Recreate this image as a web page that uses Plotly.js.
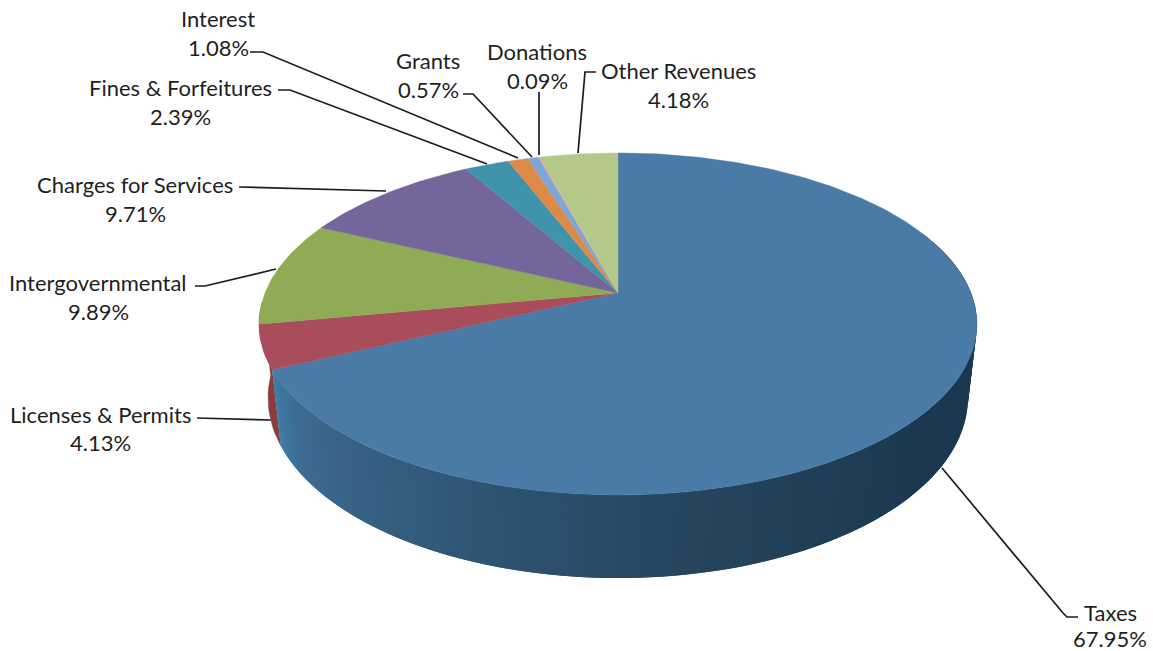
<!DOCTYPE html>
<html>
<head>
<meta charset="utf-8">
<script src="https://cdn.plot.ly/plotly-3.0.1.min.js"></script>
<style>html,body{margin:0;padding:0;background:#fff}#chart{width:1153px;height:651px}</style>
</head>
<body>
<div id="chart"></div>
<script>
// ---- data ----
const categories = ["Taxes","Licenses & Permits","Intergovernmental","Charges for Services","Fines & Forfeitures","Interest","Grants","Donations","Other Revenues"];
const shares = [67.95,4.13,9.89,9.71,2.39,1.08,0.57,0.09,4.18];
const topColors = ["#4a7aa6","#a94c5c","#8fab55","#74659b","#3f93aa","#dc8a48","#7fa6d8","#d9a9a0","#b4c88a"];

// ---- label placement (pixel axes): name centre, value centre, leader path ----
const labelX   = [1110,100,98,135,180,218,428,537,678];
const nameY    = [612,414,282,184,87,18,60,51,70];
const valueY   = [638,442,311,213,116,47,89,80,99];
const leaders  = [
  [[942,468],[1063,613],[1067,617],[1078,617]],
  [[197,418],[271,420]],
  [[195,286],[205,286],[276,269]],
  [[239,187],[386,191]],
  [[278,90],[290,90],[487,164]],
  [[250,52],[263,52],[518,158]],
  [[463,94],[473,94],[532,157]],
  [[539,92],[539,155]],
  [[596,72],[585,72],[578,153]]
];

// ---- tilted-disc projection ----
const cx = 618, cy = 293, b = 353, a = 165.4, k = 0.181;
function rim(deg){
  const r = deg*Math.PI/180, u = Math.sin(r), v = -Math.cos(r), d = 1-k*v;
  return [cx+b*u/d, cy+a*v/d];
}
function lowerRim(deg){
  const p = rim(deg);
  return [cx+(p[0]-cx)*0.975, cy+72+(p[1]-cy)*1.055];
}
function hex(c){return [1,3,5].map(i=>parseInt(c.substr(i,2),16));}
const wallStops = [[70,"#1b3850"],[130,"#1b3850"],[165,"#24435c"],[200,"#2f5676"],[232,"#3c6a90"],[241,"#3f78a2"],[244.6,"#3f87ad"]];
function wallColor(deg){
  for(let i=1;i<wallStops.length;i++){
    if(deg<=wallStops[i][0]){
      const t=(deg-wallStops[i-1][0])/(wallStops[i][0]-wallStops[i-1][0]);
      const A=hex(wallStops[i-1][1]),B=hex(wallStops[i][1]);
      return "rgb("+A.map((x,j)=>Math.round(x+(B[j]-x)*t)).join(",")+")";
    }
  }
  return wallStops[wallStops.length-1][1];
}

const total = shares.reduce((s,x)=>s+x,0);
const traces = [];
const base = {type:"scatter",mode:"lines",fill:"toself",hoverinfo:"skip",showlegend:false};

// Licenses sliver of the side wall, behind everything
const taxesEnd = shares[0]/total*360;
{
  const xs=[],ys=[],low=[];
  for(let d=taxesEnd;d<=268;d+=2){const p=rim(d);xs.push(p[0]);ys.push(p[1]);low.push(lowerRim(d));}
  low.reverse().forEach(p=>{xs.push(p[0]);ys.push(p[1]);});
  traces.push(Object.assign({},base,{x:xs,y:ys,fillcolor:"#8a3d3c",line:{color:"#8a3d3c",width:0.5}}));
}
// Taxes side wall: painted from the far end, each band running on under the next so no seam shows
const step = 1.5;
for(let d=taxesEnd-step;d>=70;d-=step){
  const xs=[],ys=[],low=[];
  for(let e=d;e<=Math.min(d+step*2,taxesEnd);e+=step/2){const p=rim(e);xs.push(p[0]);ys.push(p[1]);low.push(lowerRim(e));}
  low.reverse().forEach(p=>{xs.push(p[0]);ys.push(p[1]);});
  const c=wallColor(d+step/2);
  traces.push(Object.assign({},base,{x:xs,y:ys,fillcolor:c,line:{color:c,width:0}}));
}

// top face: one sector per category, angles from the shares
let cum = 0;
categories.forEach((name,i)=>{
  const start=cum/total*360, end=(cum+shares[i])/total*360;
  cum+=shares[i];
  const xs=[cx],ys=[cy];
  const n=Math.max(2,Math.ceil((end-start)/1));
  for(let j=0;j<=n;j++){const p=rim(start+(end-start)*j/n);xs.push(p[0]);ys.push(p[1]);}
  xs.push(cx);ys.push(cy);
  traces.push(Object.assign({},base,{name:name,x:xs,y:ys,fillcolor:topColors[i],line:{color:topColors[i],width:0.4}}));
});

const font={family:"Lato, 'Open Sans', sans-serif",size:22,color:"#1f1f1f"};
const annotations=[];
categories.forEach((name,i)=>{
  annotations.push({x:labelX[i],y:nameY[i],xref:"x",yref:"y",text:name,showarrow:false,xanchor:"center",yanchor:"middle",font:font});
  annotations.push({x:labelX[i],y:valueY[i],xref:"x",yref:"y",text:shares[i].toFixed(2)+"%",showarrow:false,xanchor:"center",yanchor:"middle",font:font});
});
const shapes=leaders.map(l=>({type:"path",xref:"x",yref:"y",layer:"above",
  path:l.map((p,i)=>(i?"L":"M")+p[0]+","+p[1]).join(" "),line:{color:"#1c1c1c",width:1.7}}));

const hidden={visible:false,fixedrange:true};
Plotly.newPlot("chart",traces,{
  width:1153,height:651,margin:{l:0,r:0,t:0,b:0},
  paper_bgcolor:"#fff",plot_bgcolor:"#fff",showlegend:false,
  xaxis:Object.assign({range:[0,1153]},hidden),
  yaxis:Object.assign({range:[651,0]},hidden),
  annotations:annotations,shapes:shapes
},{displayModeBar:false,staticPlot:true});
</script>
</body>
</html>
